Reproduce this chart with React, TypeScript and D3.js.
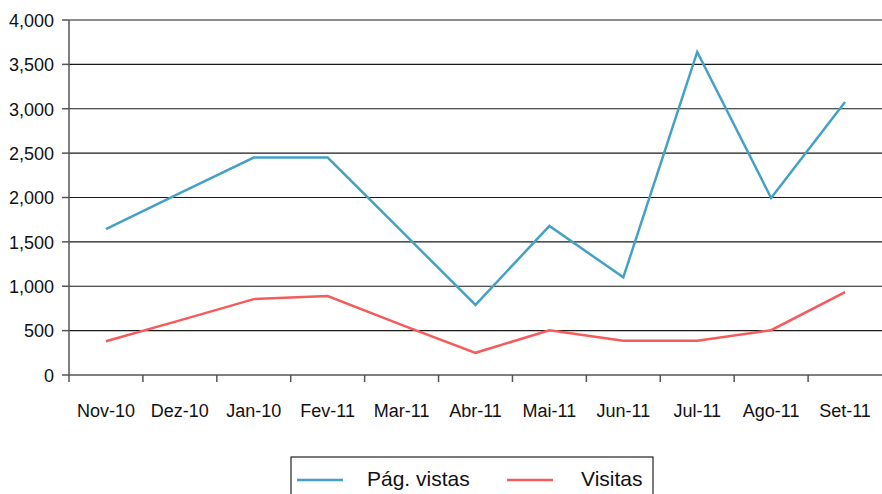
import React from 'react';
import * as d3 from 'd3';

const months = ['Nov-10', 'Dez-10', 'Jan-10', 'Fev-11', 'Mar-11', 'Abr-11', 'Mai-11', 'Jun-11', 'Jul-11', 'Ago-11', 'Set-11'];
const pageViews = [1645, 2050, 2450, 2450, 1620, 790, 1680, 1100, 3640, 1995, 3075];
const visits = [380, 615, 855, 890, 565, 250, 505, 385, 385, 505, 935];
const yTicks = [0, 500, 1000, 1500, 2000, 2500, 3000, 3500, 4000];

const series = [
  { name: 'Pág. vistas', values: pageViews, color: '#44a0c6' },
  { name: 'Visitas', values: visits, color: '#f65b5b' },
];

const width = 882;
const height = 494;
const margin = { top: 20, right: 0, bottom: 119, left: 69 };
const font = '"Liberation Sans", Arial, sans-serif';

const App: React.FC = () => {
  const x = d3
    .scaleBand<string>()
    .domain(months)
    .range([margin.left, width - margin.right]);
  const y = d3
    .scaleLinear()
    .domain([0, 4000])
    .range([height - margin.bottom, margin.top]);

  const line = d3
    .line<number>()
    .x((_, i) => (x(months[i]) as number) + x.bandwidth() / 2)
    .y((d) => y(d));

  const fmt = d3.format(',');
  const y0 = y(0);

  return (
    <svg
      width={width}
      height={height}
      style={{ position: 'absolute', left: 0, top: 0 }}
      fontFamily={font}
    >
      {yTicks.map((t) => (
        <g key={t}>
          {t > 0 && (
            <line x1={margin.left} x2={width} y1={y(t)} y2={y(t)} stroke="#1a1a1a" strokeWidth={1.2} />
          )}
          <line x1={margin.left - 7} x2={margin.left} y1={y(t)} y2={y(t)} stroke="#555" strokeWidth={1.5} />
          <text x={margin.left - 15} y={y(t)} dy="0.38em" textAnchor="end" fontSize={18} fill="#111">
            {fmt(t)}
          </text>
        </g>
      ))}
      <line x1={margin.left} x2={width} y1={y0} y2={y0} stroke="#555" strokeWidth={1.5} />
      <line x1={margin.left} x2={margin.left} y1={margin.top} y2={y0 + 7} stroke="#555" strokeWidth={1.5} />
      {months.map((m, i) => (
        <g key={m}>
          {i > 0 && (
            <line
              x1={x(m) as number}
              x2={x(m) as number}
              y1={y0}
              y2={y0 + 7}
              stroke="#555"
              strokeWidth={1.5}
            />
          )}
          <text
            x={(x(m) as number) + x.bandwidth() / 2}
            y={417}
            textAnchor="middle"
            fontSize={18}
            fill="#111"
          >
            {m}
          </text>
        </g>
      ))}
      {series.map((s) => (
        <path key={s.name} d={line(s.values) as string} fill="none" stroke={s.color} strokeWidth={2.5} />
      ))}
      <rect x={291} y={457} width={362} height={60} fill="none" stroke="#222" strokeWidth={1.2} />
      {series.map((s, i) => {
        const lx = 297 + i * 210;
        return (
          <g key={s.name}>
            <line x1={lx} x2={lx + 46} y1={480} y2={480} stroke={s.color} strokeWidth={2.5} />
            <text x={i === 0 ? 367 : 581} y={486} fontSize={21} fill="#111">
              {s.name}
            </text>
          </g>
        );
      })}
    </svg>
  );
};

export default App;
